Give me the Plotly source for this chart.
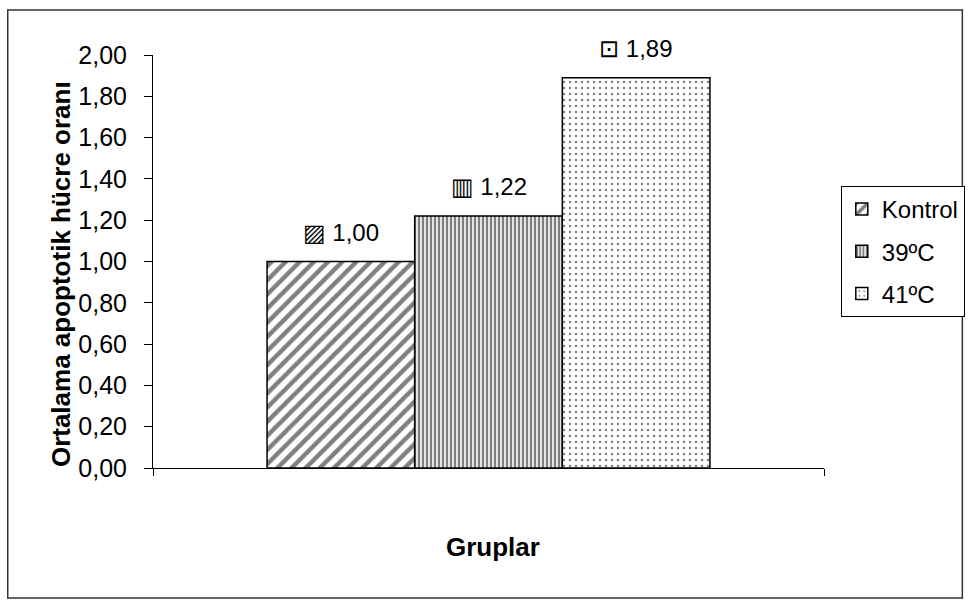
import plotly.graph_objects as go

# ---- data ----
categories = ["Kontrol", "39ºC", "41ºC"]
values = [1.00, 1.22, 1.89]
value_labels = ["1,00", "1,22", "1,89"]
label_keys = ["▨", "▥", "⊡"]
y_ticks = [0.0, 0.2, 0.4, 0.6, 0.8, 1.0, 1.2, 1.4, 1.6, 1.8, 2.0]
x_title = "Gruplar"
y_title = "Ortalama apoptotik hücre oranı"

# ---- styles ----
patterns = [
    dict(shape="/", size=10, solidity=0.45, fgcolor="black", bgcolor="white"),
    dict(shape="|", size=4, solidity=0.6, fgcolor="black", bgcolor="white"),
    dict(shape=".", size=6, solidity=0.14, fgcolor="black", bgcolor="white"),
]
W, H = 977, 606
L, R, T, B = 153, 832, 55, 468  # plot area in pixels
FONT = "Liberation Sans, Arial, DejaVu Sans, sans-serif"


def px_x(px):
    return (px - L) / (R - L)


def px_y(py):
    return (B - py) / (B - T)


bar_w = 0.22
n = len(categories)
start = -bar_w * n / 2

fig = go.Figure()
annotations = []
for i, (name, v) in enumerate(zip(categories, values)):
    off = start + i * bar_w
    fig.add_trace(go.Bar(
        x=[0], y=[v], name=name, width=bar_w, offset=off,
        marker=dict(color="white", pattern=patterns[i],
                    line=dict(color="black", width=1.5)),
        legendgroup=name, hoverinfo="skip",
    ))
    annotations.append(dict(
        x=off + bar_w / 2, y=v, xref="x", yref="y",
        text=f"{label_keys[i]} {value_labels[i]}", showarrow=False,
        yanchor="bottom", yshift=14, font=dict(family=FONT, size=24, color="black"),
    ))

annotations.append(dict(
    x=px_x(60), y=px_y(274), xref="paper", yref="paper", text=f"<b>{y_title}</b>",
    textangle=-90, showarrow=False, xanchor="center", yanchor="middle",
    font=dict(family=FONT, size=26, color="black"),
))
annotations.append(dict(
    x=px_x(497), y=px_y(547), xref="paper", yref="paper", text=f"<b>{x_title}</b>",
    showarrow=False, xanchor="center", yanchor="middle",
    font=dict(family=FONT, size=26, color="black"),
))

fig.update_layout(
    width=W, height=H, autosize=False,
    margin=dict(l=L, r=W - R, t=T, b=H - B, pad=0),
    paper_bgcolor="white", plot_bgcolor="white",
    barmode="overlay", separators=",.",
    showlegend=True,
    legend=dict(
        x=px_x(849), y=px_y(186), xanchor="left", yanchor="top",
        bordercolor="black", borderwidth=1, bgcolor="white",
        font=dict(family=FONT, size=24, color="black"),
        tracegroupgap=8, traceorder="grouped",
    ),
    annotations=annotations,
    shapes=[dict(
        type="rect", xref="paper", yref="paper",
        x0=px_x(6), x1=px_x(972), y0=px_y(598), y1=px_y(10),
        line=dict(color="#333333", width=1.5), fillcolor="rgba(0,0,0,0)", layer="below",
    )],
)
fig.update_xaxes(
    range=[-0.5, 0.5], showline=True, linecolor="black", linewidth=1,
    tickvals=[-0.5, 0.5], ticktext=["", ""], ticks="outside", ticklen=7,
    tickcolor="black", showgrid=False, zeroline=False, fixedrange=True,
)
fig.update_yaxes(
    range=[0, 2], tickvals=y_ticks, tickformat=".2f", showline=True,
    linecolor="black", linewidth=1, ticks="outside", ticklen=8, tickcolor="black",
    ticklabelstandoff=12, showgrid=False, zeroline=False,
    tickfont=dict(family=FONT, size=25, color="black"), fixedrange=True,
)

fig.write_html(
    "out.html",
    config={"displayModeBar": False},
    post_script="document.body.style.margin='0';document.body.style.overflow='hidden';",
)
